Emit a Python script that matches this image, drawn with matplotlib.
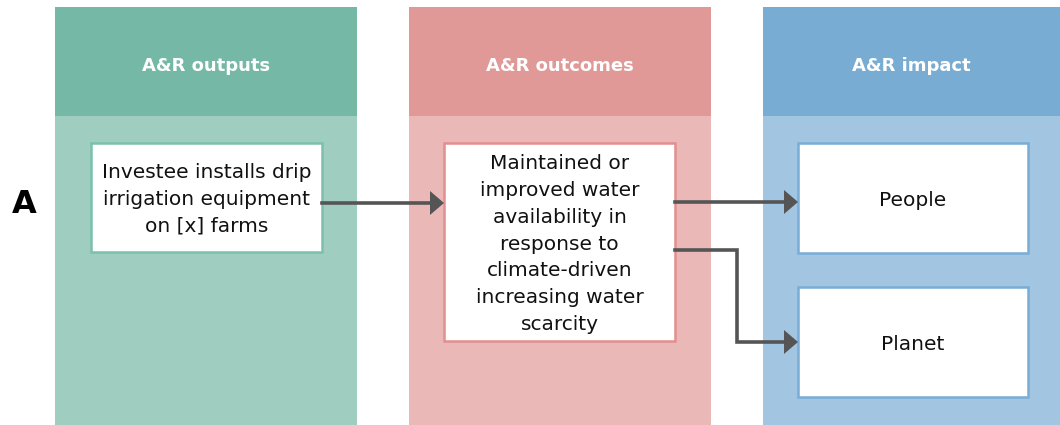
import matplotlib
matplotlib.use("Agg")
from matplotlib import pyplot as plt
from matplotlib.patches import Rectangle, Polygon

# column headers and colours
headers = ["A&R outputs", "A&R outcomes", "A&R impact"]
head_colors = ["#74b8a5", "#e09997", "#79acd3"]
body_colors = ["#9fcdbf", "#eab8b7", "#a2c5e1"]
edge_colors = ["#7cc0ac", "#e38f8f", "#79acd6"]
col_left = [55, 409, 763]
col_right = [357, 711, 1060]

# boxes: (column, text)
box_texts = [
    "Investee installs drip\nirrigation equipment\non [x] farms",
    "Maintained or\nimproved water\navailability in\nresponse to\nclimate-driven\nincreasing water\nscarcity",
    "People",
    "Planet",
]
box_cols = [0, 1, 2, 2]
box_x = [91, 444, 798, 798]
box_w = [231, 231, 230, 230]
box_y = [143, 143, 143, 287]
box_h = [109, 198, 110, 110]

ARROW = "#555555"

fig = plt.figure(figsize=(10.6, 4.25), dpi=100)
ax = fig.add_axes([0, 0, 1, 1])
ax.set_xlim(0, 1060)
ax.set_ylim(425, 0)
ax.axis("off")

for i, h in enumerate(headers):
    w = col_right[i] - col_left[i]
    ax.add_patch(Rectangle((col_left[i], 7), w, 109, fc=head_colors[i], ec="none"))
    ax.add_patch(Rectangle((col_left[i], 116), w, 309, fc=body_colors[i], ec="none"))
    ax.text(col_left[i] + w / 2, 66, h, color="white", fontsize=13, fontweight="bold",
            ha="center", va="center", family="DejaVu Sans")

for t, c, x, w, y, h in zip(box_texts, box_cols, box_x, box_w, box_y, box_h):
    ax.add_patch(Rectangle((x, y), w, h, fc="white", ec=edge_colors[c], lw=1.8, zorder=3))
    ax.text(x + w / 2, y + h / 2 + 2, t, fontsize=14.5, ha="center", va="center",
            linespacing=1.52, color="#111111", zorder=4, family="DejaVu Sans")

ax.text(24, 204, "A", fontsize=23, fontweight="bold", ha="center", va="center")


def head(x, y):
    ax.add_patch(Polygon([(x, y), (x - 14, y - 12), (x - 14, y + 12)], closed=True,
                         fc=ARROW, ec="none", zorder=5))


# arrows
paths = [
    [(322, 203), (431, 203)],
    [(675, 202), (785, 202)],
    [(675, 250), (737, 250), (737, 342), (785, 342)],
]
for p in paths:
    xs = [q[0] for q in p]
    ys = [q[1] for q in p]
    ax.plot(xs, ys, color=ARROW, lw=2.6, solid_joinstyle="miter", zorder=5)
    head(xs[-1] + 13, ys[-1])

plt.savefig("out.png", dpi=100)
plt.close()
